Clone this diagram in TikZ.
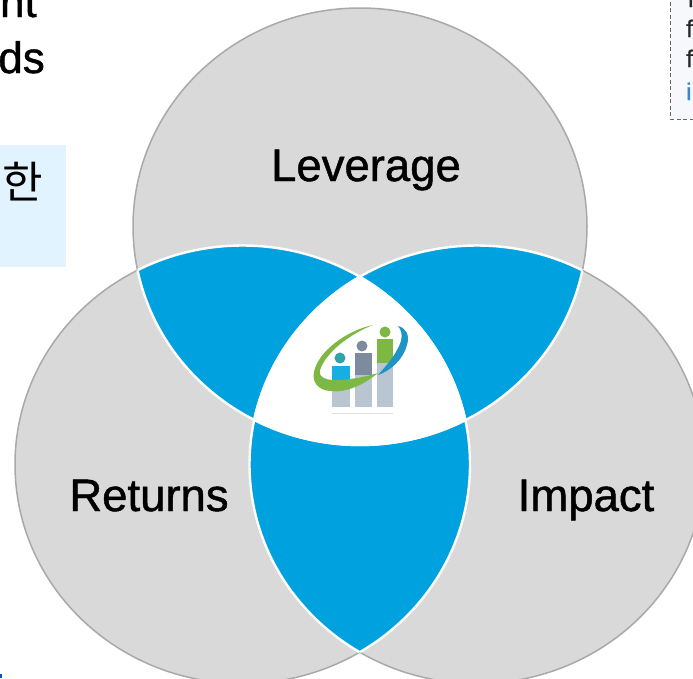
\documentclass[tikz,border=0pt]{standalone}
\usepackage{fontspec}
\setmainfont{Liberation Sans}
\newfontfamily\krfont{Noto Sans CJK KR}
\newfontfamily\labfont[RawFeature={embolden=1.0}]{Liberation Sans}
\definecolor{venngray}{HTML}{D9D9D9}
\definecolor{vennedge}{HTML}{A9A9A9}
\definecolor{vennblue}{HTML}{00A1DF}
\definecolor{lightblue}{HTML}{E1F3FE}
\definecolor{notefill}{HTML}{F6F8FB}
\definecolor{barcol}{HTML}{B9C5D0}
\definecolor{midcol}{HTML}{7C8B9D}
\definecolor{greencol}{HTML}{7DB843}
\definecolor{personblue}{HTML}{17AEE2}
\definecolor{headteal}{HTML}{2FA3A8}
\definecolor{swooshblue}{HTML}{1E93C4}
\definecolor{linkblue}{HTML}{3B86D6}
\tikzset{
  lab/.style={font=\labfont\fontsize{45.5}{46}\selectfont, text=black, inner sep=0pt, anchor=base},
  frag/.style={font=\labfont\fontsize{44}{44}\selectfont, text=black, inner sep=0pt, anchor=base east},
  notetxt/.style={font=\labfont\fontsize{24}{24}\selectfont, text=black!85, inner sep=0pt, anchor=base west},
  topE/.style={insert path={(360,226.5) ellipse [x radius=227, y radius=218.5]}},
  leftE/.style={insert path={(242.5,464.5) ellipse [x radius=227.5, y radius=219]}},
  rightE/.style={insert path={(477,464.5) ellipse [x radius=227.5, y radius=219]}},
  sep/.style={draw=white, line width=2.4pt},
  outer/.style={draw=vennedge, line width=1.5pt, fill=venngray}
}
\begin{document}
\begin{tikzpicture}[x=1pt,y=-1pt]
\useasboundingbox (0,0) rectangle (693,678);
\clip (0,0) rectangle (693,678);
% fragments
\fill[lightblue] (0,145) rectangle (66,267);
\node[frag] (fragA) at (37,17) {nt};
\node[frag] (fragB) at (45,73) {ds};
\node[font=\krfont\fontsize{44}{44}\selectfont, inner sep=0pt, anchor=base east] (fragC) at (43,198) {한};
\draw[draw=black!60, fill=notefill, line width=0.9pt, dash pattern=on 4pt off 2.5pt] (670.5,-5) -- (670.5,119) -- (700,119) -- (700,-5) -- cycle;
\node[notetxt] (noteA) at (686,37) {f};
\node[notetxt] (noteB) at (686,67) {f};
\node[notetxt, text=linkblue] (noteC) at (686,100) {i};
\node[notetxt] (noteD) at (688,7) {l};
\fill[blue!60!cyan!80!black] (0,674) rectangle (2,678);
% circles
\path[outer, leftE];
\path[outer, rightE];
\path[outer, topE];
% blue overlaps
\begin{scope}
  \clip[topE]; \fill[vennblue, leftE];
\end{scope}
\begin{scope}
  \clip[topE]; \fill[vennblue, rightE];
\end{scope}
\begin{scope}
  \clip[leftE]; \fill[vennblue, rightE];
\end{scope}
% white centre
\begin{scope}
  \clip[topE]; \clip[leftE]; \fill[white, rightE];
\end{scope}
% white separators inside the overlaps
\begin{scope}
  \clip[topE]; \path[sep, leftE]; \path[sep, rightE];
\end{scope}
\begin{scope}
  \clip[leftE]; \path[sep, topE]; \path[sep, rightE];
\end{scope}
\begin{scope}
  \clip[rightE]; \path[sep, topE]; \path[sep, leftE];
\end{scope}
% labels
\node[lab] (leverage) at (366,181) {Leverage};
\node[lab] (returns) at (149,511) {Returns};
\node[lab] (impact) at (586,511) {Impact};
% logo
\fill[barcol] (332,381) rectangle (350,407);
\fill[barcol] (355,375) rectangle (372,407);
\fill[barcol] (377,363) rectangle (393,407);
\draw[black!12, line width=1pt] (332,413) -- (393,413);
\fill[personblue] (332,366) rectangle (350,381);
\fill[midcol] (355,353) rectangle (372,375);
\fill[greencol] (377,339) rectangle (393,363);
\fill[headteal] (340,358) circle [radius=5.5];
\fill[midcol] (362,346) circle [radius=5.5];
\fill[greencol] (385,332) circle [radius=5.5];
\fill[greencol] (378,373) .. controls (362,386) and (345,393) .. (330,391)
  .. controls (317,390) and (312,381) .. (314,372)
  .. controls (318,352) and (345,331) .. (373,325)
  .. controls (350,334) and (326,352) .. (320,370)
  .. controls (318,378) and (328,381) .. (340,380)
  .. controls (355,379) and (368,376) .. cycle;
\fill[swooshblue] (378,375) .. controls (390,371) and (403,360) .. (407,345)
  .. controls (410,335) and (406,328) .. (398,326)
  .. controls (403,332) and (403,340) .. (397,350)
  .. controls (393,358) and (386,366) .. cycle;
\end{tikzpicture}
\end{document}
